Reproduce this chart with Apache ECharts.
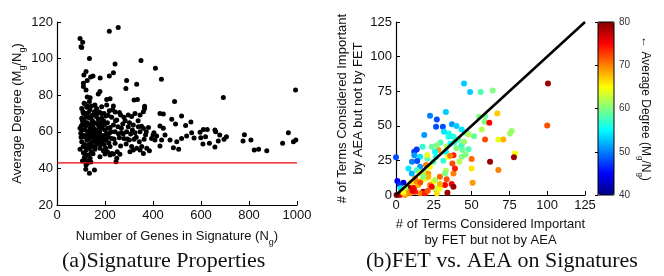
<!DOCTYPE html>
<html>
<head>
    <meta charset="UTF-8">
    <title></title>
    <style type="text/css">
        body { margin: 0; background: #fff; }
        #mychart { width: 664px; height: 276px; }
    </style>
</head>
<body>
<div id='mychart'></div>
<script src='https://cdn.jsdelivr.net/npm/echarts@6/dist/echarts.min.js'></script>
<script>
    // (a) [number of genes, average degree]
    var sigPoints = [
        [96,111],[100,106.5],[107,109],[103,106],[135,100],[218,115],[255,117],[242,97],[235,92.3],[218,90.5],
        [180,89.4],[350,99],[410,94.7],[435,88.7],[290,88],[332,86],[287,83.7],[321,77.4],[335,77.7],[365,74],
        [490,76.5],[693,78.8],[994,82.8],[121,93],[112,91],[126,88],[110,86.5],[140,90],[150,90.5],[179,82],
        [172,80.7],[207,77.7],[221,78],[126,79],[138,78.6],[121,82.8],[110,84.7],
        [429,70],[443,69.7],[478,66.8],[519,68.6],[558,65.4],[536,63.4],[494,64.3],[610,61.3],[626,61.3],[658,61],
        [596,59.7],[561,59.5],[540,57.7],[571,56.6],[599,56.8],[619,57.3],[608,53.3],[635,53.7],[658,51.7],
        [672,55],[696,55.9],[706,57.3],[678,58.3],[661,60],[781,58.4],[775,55],[808,55.5],[822,50],[840,50.4],
        [874,49.7],[940,53.7],[964,59.5],[985,54.6],[995,55.5],[485,51.3],[507,50.4],[471,55.5],[499,54.6],
        [519,56.4],[429,52.3],[436,55.5],[450,58.3],[415,57.7],[400,58.3],[443,61.9],[429,63.2],[404,59.5],
        [374,51],[385,49.7],[360,48.2],[346,50],[394,56.4],[408,55.5],
        [260,70.5],[265,69.2],[279,68],[297,69.2],[311,68.3],[325,70],[346,69.2],[360,71],[365,72.8],
        [249,66.4],[274,64.3],[297,62.8],[318,63.7],[339,62.8],[360,61.9],[381,62.3],
        [254,62.8],[242,60],[269,59.5],[290,60],[307,58.8],[325,59.5],[346,60],[369,58.3],
        [260,56.8],[279,56.4],[301,55.5],[321,55.9],[343,54.6],[363,55.9],
        [242,53.7],[265,52.3],[288,53.3],[311,51.9],[332,51],[353,51.9],
        [251,49.1],[235,47.9],[262,47.7],[304,49.1],[318,50],[246,43.7],
        [135,37.3],[156,39.1],[121,41.9],[126,42.8],[117,45],[138,45.5],[131,47.3],[110,48.6],[150,48],
        [96,50.4],[117,51.9],[135,51],[158,50.4],[179,51],[193,49.7],[210,49.1],[228,48.2],[179,46.4],
        [200,47.9],[221,51.9],[165,53.3],
        [103,54.6],[124,55.5],[144,54],[168,55.9],[186,54.6],[204,55.5],[228,56.4],[110,57.3],[131,58.3],
        [151,57.3],[175,58.8],[196,57.7],[218,59.2],[99,59.2],[179,56.6],[221,47.3],[249,45.5],
        [96,61.9],[117,61],[138,61.9],[158,60.6],[179,61.9],[200,61],[221,62.4],[107,64.3],[126,65],
        [149,63.7],[168,64.6],[190,63.7],[210,65],[235,63.7],[101,63.2],
        [103,67.4],[121,68.3],[140,67.4],[163,68.3],[186,67.4],[204,68.6],[228,67.9],[110,70],[131,70.6],
        [154,69.7],[176,70.8],[196,70],[218,71.5],
        [103,72.8],[124,73.4],[144,74.1],[165,72.8],[186,73.7],[207,74.6],[235,74.1],[113,75.6],[135,76.5],
        [158,74.6],[242,70.8],
        [112,58],[119,63],[128,60],[133,56],[142,59],[147,66],[153,62],[161,57],[170,61],[183,65],
        [115,53],[122,50],[129,44],[146,52],[162,55],[189,58],[197,53],[214,57],[226,60],[238,56],
        [106,66],[118,70],[137,72],[156,71],[172,67],[194,66],[213,69],[232,72],[244,66],[256,59],
        [100,57],[104,61],[109,52],[113,66],[116,48],[123,58],[127,68],[132,53],[136,64],[139,57],
        [143,49],[145,61],[148,69],[152,55],[155,65],[159,52],[163,59],[167,70],[171,54],[174,63],
        [178,60],[182,53],[185,70],[188,62],[192,56],[198,64],[202,51],[206,59],[211,62],[216,54],
        [106,44],[114,46],[120,39.5],[125,47],[141,43.5],[108,71],[118,75],[128,74],[134,68],[152,60],
        [268,62],[276,59],[284,66],[293,56],[302,65],[314,61],[330,57],[338,66],[352,63],[372,60]
    ];
    var thresholdDeg = 43;

    // (b) [FET only, AEA only, average degree]
    var termPoints = [
        [45,80.5,53],[49,74.5,53],[56,74.5,58],[64,75.5,60],[100.5,80.5,79],[100,50.2,72],
        [22.5,57.2,50],[27,54.6,48],[33,60,53],[26.5,49.3,48],[31,49.3,48],[37,51.2,51],[40,49.8,53],
        [43.4,47.4,54],[18.7,43.3,51],[35,44.5,56],[34.7,42,56],[38,42,56],[31.8,45.7,54],[46.7,45,57],
        [47.9,43.8,62],[51.6,42.5,59],[56.7,47.4,62],[58.5,52.9,60],[55,56.5,60],[58.9,57,59],[67,58.9,67],
        [61.7,52.2,75],[58.9,40.1,72],[67.7,40.1,64],[71,40.1,68],[75.4,44.5,61],[76.5,46.2,61],[78.7,30,65],
        [78,27.2,79],[62.2,24,79],[67.7,18,70],[50,26,71],[50,19.2,66],[50.7,8.9,69],[38,28.8,74],
        [37.3,22.8,72],[33.5,34.9,62],[40,33.7,60],[43.4,36,57],[44,32.5,59],[43.4,27.6,60],[41.9,24,62],
        [33,31.3,55],[31.3,24.8,57],[33,17.5,62],[34.6,27.6,65],[35.8,28.4,70],[28,32.5,69],[26.5,27.6,56],
        [24.7,24,58],[23.6,34.9,59],[25.8,31.3,55],[17.6,34.9,57],[15.9,27.6,54],[20.7,26.4,58],[20.7,28.8,64],
        [12.1,31.3,47],[13.7,32.9,47],[12.1,28.8,51],[10.6,24,50],[14,24.5,48],[15.9,20.4,51],[8.2,19.2,54],
        [13.7,18,58],[15.9,15.6,65],[19.2,16.8,62],[21.4,15.6,69],[10.4,15.6,52],[0,27.2,48],[0.9,10.1,45],
        [4.9,8.9,43],[2.6,7.2,47],[3.1,4.8,54],[8.8,6,79],[11.9,5.3,75],[13.7,9.6,70],[14.8,7.2,68],
        [17,10.8,65],[19.8,12,64],[21.4,13.2,68],[24.7,9.6,65],[22.5,7.2,70],[25.8,4.8,62],[28.9,4.8,65],
        [32.4,7.2,75],[33.5,11.3,72],[36.8,7.9,75],[38,6,79],[34,1.7,79],[23.6,6,75],[18,2.4,79],
        [15.9,1.2,70],[12.6,2.4,74],[9.3,1.2,70],[6,0,69],[2.6,0,75],[0.4,0,80],[7,3.1,70],[4.9,1.7,65],
        [19.2,1.2,74],[27,1.2,66],[25.8,10.8,62],[29,13.2,71],[32.4,15.6,60],[38,15.6,70],[39,19.2,74],
        [19.8,21.6,70],[22.5,20.4,65],[18,13.2,60],[12.6,12,70],
        [38.5,38,57],[41,40,58],[36,37,55],[29.5,38,58],[27,36,60],[45,38.5,61],[46,29,60],[48,33,58],
        [16,9,72],[10,9,66],[6,5,62],[11,3,76],[21,3,72],[29,8,68]
    ];
    var diagLine = [[0, 0], [125, 125]];
    var degreeMin = 40, degreeMax = 80;

    var txt = '#111';
    var sub = {fontSize: 9, lineHeight: 20, verticalAlign: 'bottom', fontFamily: 'Liberation Sans', color: txt};

    var myChart = echarts.init(document.getElementById('mychart'));

    function axisBase(min, max, interval) {
        return {
            type: 'value', min: min, max: max, interval: interval,
            splitLine: {show: false},
            axisLine: {onZero: false, lineStyle: {color: '#000', width: 1.2}},
            axisTick: {inside: true, length: 4, lineStyle: {color: '#000'}},
            axisLabel: {color: txt, fontSize: 13, fontFamily: 'Liberation Sans', margin: 4,
                formatter: function (v) { return String(v); }},
            nameTextStyle: {color: txt, fontSize: 13, fontFamily: 'Liberation Sans', lineHeight: 16,
                rich: {s: sub}},
            nameLocation: 'middle'
        };
    }

    var xa = axisBase(0, 1000, 200);
    xa.gridIndex = 0;
    xa.name = 'Number of Genes in Signature (N{s|g})';
    xa.nameGap = 15;
    var ya = axisBase(20, 120, 20);
    ya.gridIndex = 0;
    ya.name = 'Average Degree (M{s|g}/N{s|g})';
    ya.nameGap = 30;

    var xb = axisBase(0, 125, 25);
    xb.gridIndex = 1;
    xb.name = '# of Terms Considered Important\nby FET but not by AEA';
    xb.nameGap = 16;
    var yb = axisBase(0, 125, 25);
    yb.gridIndex = 1;
    yb.name = '# of Terms Considered Important\nby AEA but not by FET';
    yb.nameGap = 30;

    // colour bar axes
    var xc = {type: 'value', gridIndex: 2, show: false, min: 0, max: 1};
    var yc = {
        type: 'value', gridIndex: 2, position: 'right', min: degreeMin, max: degreeMax, interval: 10,
        splitLine: {show: false}, z: 10,
        axisLine: {show: false},
        axisTick: {inside: true, length: 3, lineStyle: {color: '#000'}},
        axisLabel: {color: '#333', fontSize: 10, fontFamily: 'Liberation Sans', margin: 5},
        name: '\u2190 Average Degree (M{s|g}/N{s|g})',
        nameLocation: 'middle', nameRotate: -90, nameGap: 22,
        nameTextStyle: {color: txt, fontSize: 12, fontFamily: 'Liberation Sans', lineHeight: 16,
            rich: {s: {fontSize: 8, lineHeight: 18, verticalAlign: 'bottom', color: txt}}}
    };

    var capStyle = {fontFamily: 'Liberation Serif', fontWeight: 'normal', fontSize: 22, color: '#111'};

    var option = {
        backgroundColor: '#fff',
        animation: false,
        title: [
            {text: '(a)Signature Properties', left: 62, top: 250, padding: 0, textStyle: capStyle},
            {text: '(b)FET vs. AEA on Signatures', left: 366, top: 250, padding: 0, textStyle: capStyle}
        ],
        grid: [
            {left: 57, top: 22, width: 240, height: 183},
            {left: 396, top: 22, width: 189, height: 173},
            {left: 598, top: 22, width: 16, height: 173, show: true, z: 10,
                borderColor: '#000', borderWidth: 1, backgroundColor: 'transparent'}
        ],
        xAxis: [xa, xb, xc],
        yAxis: [ya, yb, yc],
        visualMap: {
            type: 'continuous', seriesIndex: 2, dimension: 2,
            min: degreeMin, max: degreeMax,
            left: 598, top: 22, itemWidth: 16, itemHeight: 173, padding: 0,
            text: ['', ''], calculable: false, realtime: false, showLabel: false,
            inRange: {color: ['#000080', '#0000ff', '#0080ff', '#00ffff', '#80ff80',
                '#ffff00', '#ff8000', '#ff0000', '#800000']}
        },
        series: [
            {
                type: 'scatter', xAxisIndex: 0, yAxisIndex: 0, data: sigPoints,
                symbolSize: 5, itemStyle: {color: '#000', opacity: 1}
            },
            {
                type: 'line', xAxisIndex: 0, yAxisIndex: 0,
                data: [[0, thresholdDeg], [1000, thresholdDeg]],
                symbol: 'none', lineStyle: {color: '#e00', width: 1.3}, z: 3
            },
            {
                type: 'scatter', xAxisIndex: 1, yAxisIndex: 1, data: termPoints,
                symbolSize: 6, itemStyle: {opacity: 1}
            },
            {
                type: 'line', xAxisIndex: 1, yAxisIndex: 1, data: diagLine,
                symbol: 'none', lineStyle: {color: '#000', width: 2.5}, z: 4
            }
        ]
    };

    myChart.setOption(option);
</script>
</body>
</html>
